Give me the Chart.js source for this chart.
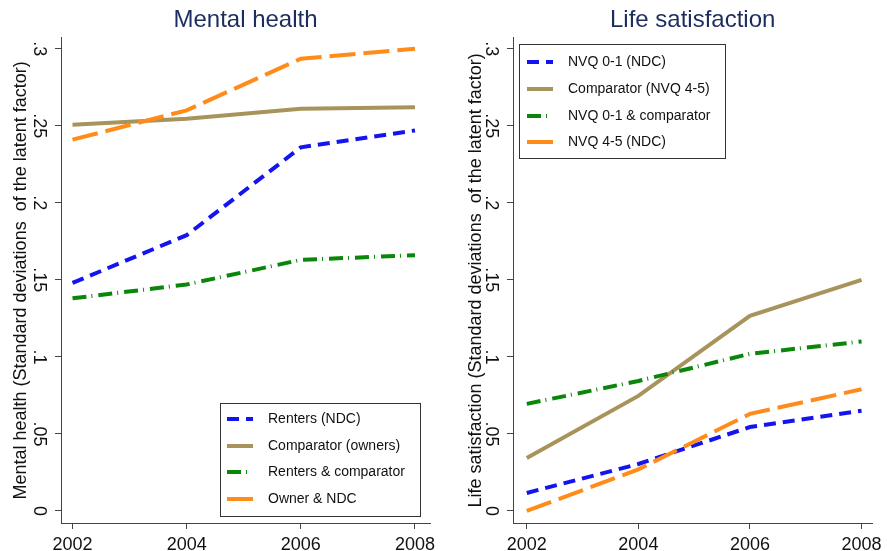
<!DOCTYPE html>
<html lang="en">
<head>
<meta charset="UTF-8">
<title>Mental health and life satisfaction</title>
<script src="https://cdn.jsdelivr.net/npm/chart.js"></script>
<style>
  html, body { margin: 0; padding: 0; background: #fff; }
  .panel { position: absolute; top: 0; height: 551px; }
  #left { left: 0; width: 445px; }
  #right { left: 445px; width: 442px; }
</style>
</head>
<body>
<div class="panel" id="left"><canvas id="mhChart"></canvas></div>
<div class="panel" id="right"><canvas id="lsChart"></canvas></div>

<script>
// data
const years = [2002, 2004, 2006, 2008];
const yTickValues = [0, 0.05, 0.1, 0.15, 0.2, 0.25, 0.3];
const yTickLabels = ['0', '.05', '.1', '.15', '.2', '.25', '.3'];

// Mental health panel
const mhLabels = ['Renters (NDC)', 'Comparator (owners)', 'Renters & comparator', 'Owner & NDC'];
const mhRenters = [0.148, 0.179, 0.236, 0.247];
const mhComparator = [0.2507, 0.2545, 0.261, 0.262];
const mhRentersComp = [0.138, 0.147, 0.163, 0.166];
const mhOwnerNdc = [0.241, 0.260, 0.2935, 0.300];

// Life satisfaction panel
const lsLabels = ['NVQ 0-1 (NDC)', 'Comparator (NVQ 4-5)', 'NVQ 0-1 & comparator', 'NVQ 4-5 (NDC)'];
const lsNvq01 = [0.0117, 0.0305, 0.0545, 0.065];
const lsComparator = [0.0344, 0.0747, 0.1266, 0.150];
const lsNvq01Comp = [0.0695, 0.0844, 0.102, 0.110];
const lsNvq45 = [0.0, 0.027, 0.063, 0.079];

// line styles (same four styles in both panels)
const styles = [
  { color: '#1414f0', dash: [12, 7] },
  { color: '#a8935a', dash: [] },
  { color: '#0a870a', dash: [14, 5, 1, 6] },
  { color: '#ff8c1a', dash: [26, 8] }
];

const FONT = 'Arial, "Liberation Sans", sans-serif';

function makeDatasets(labels, series) {
  return series.map((vals, i) => ({
    label: labels[i],
    data: years.map((yr, j) => ({ x: yr, y: vals[j] })),
    borderColor: styles[i].color,
    borderDash: styles[i].dash,
    borderWidth: 4,
    borderCapStyle: 'butt',
    pointRadius: 0,
    tension: 0,
    fill: false,
    order: series.length - i
  }));
}

// boxed legend drawn inside the plot, Stata style
const boxLegend = {
  id: 'boxLegend',
  afterDraw(chart, args, opts) {
    const ctx = chart.ctx;
    ctx.save();
    ctx.strokeStyle = '#333';
    ctx.lineWidth = 1;
    ctx.strokeRect(opts.x + 0.5, opts.y + 0.5, opts.w, opts.h);
    ctx.font = '14px ' + FONT;
    ctx.textBaseline = 'middle';
    ctx.fillStyle = '#111';
    chart.data.datasets.forEach((ds, i) => {
      const ly = opts.rows[i];
      ctx.beginPath();
      ctx.setLineDash(ds.borderDash);
      ctx.lineWidth = 4;
      ctx.strokeStyle = ds.borderColor;
      ctx.moveTo(opts.sx, ly);
      ctx.lineTo(opts.sx + 26, ly);
      ctx.stroke();
      ctx.setLineDash([]);
      ctx.fillText(ds.label, opts.tx, ly);
    });
    ctx.restore();
  }
};

function makeChart(id, title, yTitle, labels, series, xMin, xMax, padRight, yWidth, titlePad, legend) {
  return new Chart(document.getElementById(id), {
    type: 'line',
    data: { datasets: makeDatasets(labels, series) },
    options: {
      responsive: true,
      maintainAspectRatio: false,
      animation: false,
      layout: { padding: { left: 0, right: padRight, top: 0, bottom: 0 } },
      plugins: {
        legend: { display: false },
        tooltip: { enabled: false },
        title: {
          display: true,
          text: title,
          fullSize: false,
          color: '#1c2d5e',
          font: { family: FONT, size: 24, weight: 'normal' },
          padding: { top: 6, bottom: 3 }
        },
        boxLegend: legend
      },
      scales: {
        x: {
          type: 'linear',
          min: xMin,
          max: xMax,
          afterBuildTicks: s => { s.ticks = years.map(v => ({ value: v })); },
          afterFit: s => { s.height = 28; },
          border: { display: true, color: '#444', width: 1 },
          grid: { drawOnChartArea: false, drawTicks: true, tickLength: 6, color: '#444' },
          ticks: {
            color: '#111',
            font: { family: FONT, size: 18 },
            padding: 5,
            maxRotation: 0,
            callback: v => String(v)
          }
        },
        y: {
          min: -0.0078,
          max: 0.3071,
          afterBuildTicks: s => { s.ticks = yTickValues.map(v => ({ value: v })); },
          afterFit: s => { s.width = yWidth; },
          border: { display: true, color: '#444', width: 1 },
          grid: { drawOnChartArea: false, drawTicks: true, tickLength: 6, color: '#444' },
          ticks: {
            color: '#111',
            font: { family: FONT, size: 18 },
            minRotation: -90,
            maxRotation: -90,
            crossAlign: 'center',
            padding: 4,
            callback: v => yTickLabels[yTickValues.indexOf(v)]
          },
          title: {
            display: true,
            text: yTitle,
            color: '#111',
            font: { family: FONT, size: 18 },
            padding: { top: titlePad, bottom: 0 }
          }
        }
      }
    },
    plugins: [boxLegend]
  });
}

makeChart('mhChart', 'Mental health',
  'Mental health (Standard deviations  of the latent factor)',
  mhLabels, [mhRenters, mhComparator, mhRentersComp, mhOwnerNdc],
  2002 - 0.2015, 2008 + 0.263, 15, 61, 10,
  { x: 220, y: 403, w: 200, h: 113, sx: 227, tx: 268, rows: [419, 446, 472, 499] });

makeChart('lsChart', 'Life satisfaction',
  'Life satisfaction (Standard deviations  of the latent factor)',
  lsLabels, [lsNvq01, lsComparator, lsNvq01Comp, lsNvq45],
  2002 - 0.247, 2008 + 0.194, 9, 68, 20,
  { x: 74, y: 44, w: 206, h: 114, sx: 82, tx: 123, rows: [62, 89, 116, 142] });
</script>
</body>
</html>
